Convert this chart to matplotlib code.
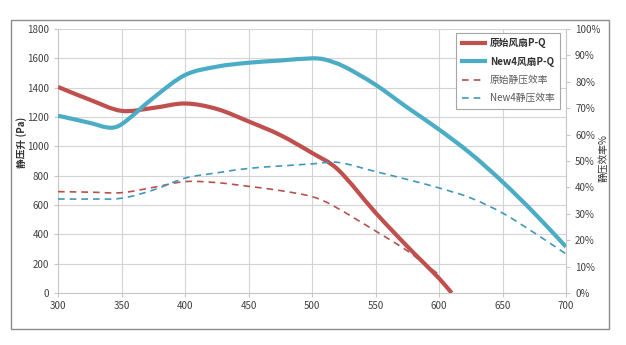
import numpy as np
import matplotlib
matplotlib.use("Agg")
import matplotlib.pyplot as plt
from matplotlib.path import Path
from matplotlib.patches import PathPatch, Rectangle
from matplotlib.lines import Line2D
from matplotlib.ticker import FuncFormatter

plt.rcParams['font.family'] = ['Noto Sans CJK SC', 'DejaVu Sans']

# 风量 vs 静压升 (Pa)
q_old = [300, 325, 350, 375, 400, 425, 450, 475, 500, 520, 550, 575, 600, 610]
p_old = [1405, 1318, 1242, 1262, 1292, 1255, 1170, 1077, 955, 845, 548, 318, 100, 0]

q_new = [300, 325, 341, 350, 375, 400, 425, 450, 475, 500, 510, 525, 550, 575,
         600, 625, 650, 675, 700]
p_new = [1209, 1160, 1127, 1150, 1330, 1486, 1543, 1570, 1585, 1600, 1592, 1545,
         1420, 1265, 1115, 950, 758, 545, 315]

# 静压效率 (%)
e_old_q = [300, 325, 350, 375, 400, 425, 450, 475, 500, 515, 550, 575, 590, 600]
e_old = [38.4, 38.2, 38.0, 40.0, 42.2, 41.8, 40.4, 38.8, 36.5, 33.5, 23.5, 16.0, 10.5, 7.0]

e_new_q = [300, 325, 350, 375, 400, 425, 450, 475, 500, 520, 550, 575, 600, 625,
           650, 675, 700]
e_new = [35.6, 35.6, 35.9, 39.0, 43.5, 45.5, 47.2, 48.1, 48.9, 49.5, 46.0, 43.0,
         39.8, 36.0, 30.3, 22.8, 14.8]

labels = ['原始风扇P-Q', 'New4风扇P-Q', '原始静压效率', 'New4静压效率']
RED = '#C0504D'
BLUE = '#4BACC6'
RED_DASH = '#B5524E'
BLUE_DASH = '#3F98BB'


def smooth_path(xs, ys):
    # cubic Hermite segments (as Bezier) with x-aware slopes, so the curve never loops back
    x = np.asarray(xs, float)
    y = np.asarray(ys, float)
    n = len(x)
    m = np.empty(n)
    m[0] = (y[1] - y[0]) / (x[1] - x[0])
    m[-1] = (y[-1] - y[-2]) / (x[-1] - x[-2])
    m[1:-1] = (y[2:] - y[:-2]) / (x[2:] - x[:-2])
    verts = [(x[0], y[0])]
    codes = [Path.MOVETO]
    for i in range(n - 1):
        h = x[i + 1] - x[i]
        verts += [(x[i] + h / 3, y[i] + m[i] * h / 3),
                  (x[i + 1] - h / 3, y[i + 1] - m[i + 1] * h / 3),
                  (x[i + 1], y[i + 1])]
        codes += [Path.CURVE4] * 3
    return Path(verts, codes)


def draw_curve(ax, xs, ys, **kw):
    patch = PathPatch(smooth_path(xs, ys), fill=False, capstyle='butt',
                      joinstyle='round', **kw)
    ax.add_patch(patch)
    return patch


fig = plt.figure(figsize=(6.26, 3.45), dpi=100)
ax = fig.add_axes([58 / 626, 52 / 345, 508 / 626, 264 / 345])
ax2 = ax.twinx()

draw_curve(ax, q_old, p_old, edgecolor=RED, linewidth=3.0, zorder=4)
draw_curve(ax, q_new, p_new, edgecolor=BLUE, linewidth=3.0, zorder=4)
draw_curve(ax2, e_old_q, e_old, edgecolor=RED_DASH, linewidth=1.2,
           linestyle=(0, (4, 3)), zorder=3)
draw_curve(ax2, e_new_q, e_new, edgecolor=BLUE_DASH, linewidth=1.2,
           linestyle=(0, (4, 3)), zorder=3)

ax.set_xlim(300, 700)
ax.set_ylim(0, 1800)
ax2.set_ylim(0, 100)
ax.set_xticks(np.arange(300, 701, 50))
ax.set_yticks(np.arange(0, 1801, 200))
ax2.set_yticks(np.arange(0, 101, 10))
ax2.yaxis.set_major_formatter(FuncFormatter(lambda v, _: f'{v:.0f}%'))

ax.grid(True, color='#d4d4d4', linewidth=0.8)
ax.set_axisbelow(True)
for a in (ax, ax2):
    a.spines['top'].set_visible(False)
    for s in ('left', 'right', 'bottom'):
        a.spines[s].set_color('#c8c8c8')
        a.spines[s].set_linewidth(0.8)
    a.tick_params(colors='#c8c8c8', labelcolor='#404040', labelsize=7,
                  length=3, width=0.8)
ax.spines['right'].set_visible(False)
ax2.spines['left'].set_visible(False)
ax2.spines['bottom'].set_visible(False)
ax.tick_params(axis='x', pad=3)

ax.set_ylabel('静压升 (Pa)', fontsize=7, fontweight='bold', color='#303030')
ax.yaxis.set_label_coords(-0.061, 0.57)
ax2.set_ylabel('静压效率%', fontsize=7, color='#303030', rotation=90)
ax2.yaxis.set_label_coords(1.064, 0.51)

handles = [
    Line2D([], [], color=RED, linewidth=3.0),
    Line2D([], [], color=BLUE, linewidth=3.0),
    Line2D([], [], color=RED_DASH, linewidth=1.2, linestyle=(0, (4, 3))),
    Line2D([], [], color=BLUE_DASH, linewidth=1.2, linestyle=(0, (4, 3))),
]
leg = ax2.legend(handles, labels, loc='upper right', bbox_to_anchor=(0.988, 0.985),
                 fontsize=7, fancybox=False, framealpha=1, edgecolor='#a6a6a6',
                 handlelength=2.4, handletextpad=0.5, labelspacing=0.85,
                 borderpad=0.55, borderaxespad=0)
leg.get_frame().set_linewidth(0.8)
for i, t in enumerate(leg.get_texts()):
    t.set_color('#303030' if i < 2 else '#595959')
    if i < 2:
        t.set_fontweight('bold')

# outer chart border
fig.patches.append(Rectangle((11 / 626, 16 / 345), 598 / 626, 309 / 345,
                             transform=fig.transFigure, fill=False,
                             edgecolor='#8c8c8c', linewidth=1.0))

fig.savefig('out.png', dpi=100)
